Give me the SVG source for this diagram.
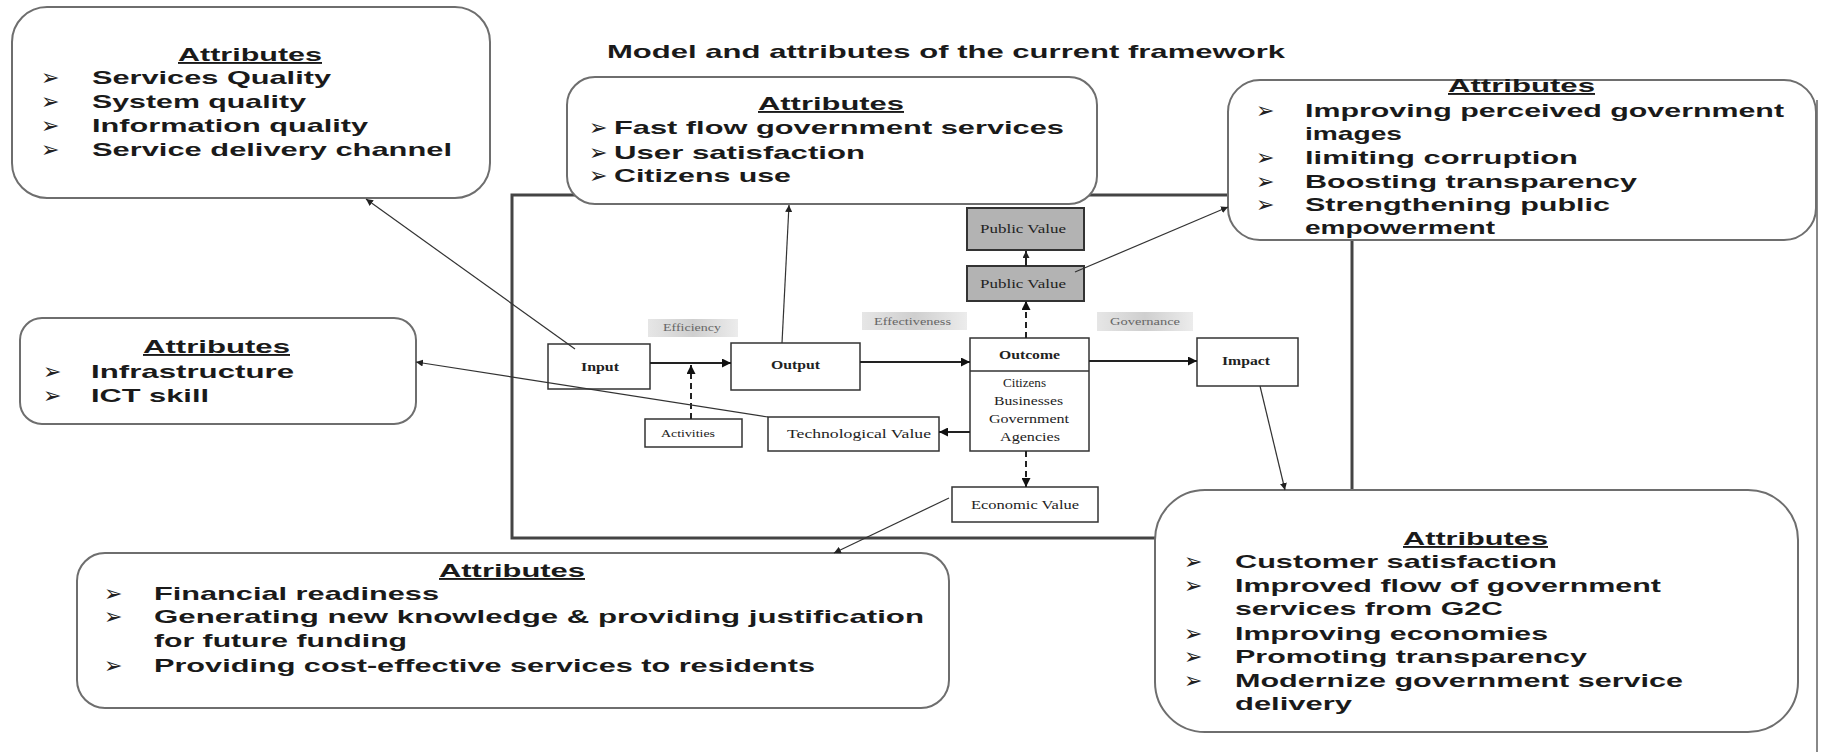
<svg xmlns="http://www.w3.org/2000/svg" width="1821" height="752" viewBox="0 0 1821 752">
<style>
.box{fill:#fff;stroke:#6e6e6e;stroke-width:2}
.h{font-family:"Liberation Sans",Arial,sans-serif;font-weight:bold;font-size:19px;fill:#1a1a1a;text-decoration:underline}
.t{font-family:"Liberation Sans",Arial,sans-serif;font-weight:bold;font-size:19px;fill:#1a1a1a}
.b{font-family:"DejaVu Sans",sans-serif;font-size:22px;fill:#222}
.n{fill:#fff;stroke:#333;stroke-width:1.5}
.pv{fill:#b3b3b3;stroke:#333;stroke-width:2}
.s{font-family:"Liberation Serif","Times New Roman",serif;font-size:13px;fill:#222}
.sb{font-weight:bold}
.lab{font-family:"Liberation Serif","Times New Roman",serif;font-size:11px;fill:#666}
.c{stroke:#222;stroke-width:2;fill:none}
.thin{stroke:#333;stroke-width:1.2;fill:none}
.dash{stroke-dasharray:6 4}
.frame{fill:none;stroke:#444;stroke-width:3}
</style>
<defs>
<marker id="ah" viewBox="0 0 10 10" refX="10" refY="5" markerWidth="9" markerHeight="9" markerUnits="userSpaceOnUse" orient="auto">
<path d="M0,0 L10,5 L0,10 z" fill="#111"/>
</marker>
<marker id="ahs" viewBox="0 0 10 10" refX="10" refY="5" markerWidth="7" markerHeight="7" markerUnits="userSpaceOnUse" orient="auto">
<path d="M0,0 L10,5 L0,10 z" fill="#222"/>
</marker>
<linearGradient id="lg" x1="0" y1="0" x2="1" y2="0">
<stop offset="0" stop-color="#e6e6e6"/>
<stop offset="0.5" stop-color="#cfcfcf"/>
<stop offset="1" stop-color="#ececec"/>
</linearGradient>
</defs>
<rect width="1821" height="752" fill="#fff"/>
<line x1="1817" y1="100" x2="1817" y2="752" stroke="#888" stroke-width="2"/>

<text id="title" class="t" x="607" y="58" textLength="678" lengthAdjust="spacingAndGlyphs">Model and attributes of the current framework</text>

<g id="frame"><rect class="frame" x="512" y="195" width="840" height="343"/></g>

<g id="attr-top-left">
<rect class="box" x="12" y="7" width="478" height="191" rx="35"/>
<text class="h" x="178" y="61" textLength="144" lengthAdjust="spacingAndGlyphs">Attributes</text>
<text class="b" x="41" y="85">➢</text><text class="t" x="92" y="84" textLength="239" lengthAdjust="spacingAndGlyphs">Services Quality</text>
<text class="b" x="41" y="109">➢</text><text class="t" x="92" y="108" textLength="214" lengthAdjust="spacingAndGlyphs">System quality</text>
<text class="b" x="41" y="133">➢</text><text class="t" x="92" y="132" textLength="276" lengthAdjust="spacingAndGlyphs">Information quality</text>
<text class="b" x="41" y="157">➢</text><text class="t" x="92" y="156" textLength="360" lengthAdjust="spacingAndGlyphs">Service delivery channel</text>
</g>

<g id="attr-output">
<rect class="box" x="567" y="77" width="530" height="127" rx="28"/>
<text class="h" x="758" y="110" textLength="146" lengthAdjust="spacingAndGlyphs">Attributes</text>
<text class="b" x="589" y="135">➢</text><text class="t" x="614" y="134" textLength="450" lengthAdjust="spacingAndGlyphs">Fast flow  government services</text>
<text class="b" x="589" y="160">➢</text><text class="t" x="614" y="159" textLength="251" lengthAdjust="spacingAndGlyphs">User satisfaction</text>
<text class="b" x="589" y="183">➢</text><text class="t" x="614" y="182" textLength="177" lengthAdjust="spacingAndGlyphs">Citizens use</text>
</g>

<g id="attr-public-value">
<rect class="box" x="1228" y="80" width="588" height="160" rx="32"/>
<text class="h" x="1448" y="92" textLength="147" lengthAdjust="spacingAndGlyphs">Attributes</text>
<text class="b" x="1256" y="118">➢</text><text class="t" x="1305" y="117" textLength="479" lengthAdjust="spacingAndGlyphs">Improving perceived government</text>
<text class="t" x="1305" y="140" textLength="97" lengthAdjust="spacingAndGlyphs">images</text>
<text class="b" x="1256" y="165">➢</text><text class="t" x="1305" y="164" textLength="273" lengthAdjust="spacingAndGlyphs">limiting corruption</text>
<text class="b" x="1256" y="189">➢</text><text class="t" x="1305" y="188" textLength="332" lengthAdjust="spacingAndGlyphs">Boosting transparency</text>
<text class="b" x="1256" y="212">➢</text><text class="t" x="1305" y="211" textLength="305" lengthAdjust="spacingAndGlyphs">Strengthening public</text>
<text class="t" x="1305" y="234" textLength="190" lengthAdjust="spacingAndGlyphs">empowerment</text>
</g>

<g id="attr-technological">
<rect class="box" x="20" y="318" width="396" height="106" rx="22"/>
<text class="h" x="143" y="353" textLength="147" lengthAdjust="spacingAndGlyphs">Attributes</text>
<text class="b" x="43" y="379">➢</text><text class="t" x="91" y="378" textLength="203" lengthAdjust="spacingAndGlyphs">Infrastructure</text>
<text class="b" x="43" y="403">➢</text><text class="t" x="91" y="402" textLength="118" lengthAdjust="spacingAndGlyphs">ICT skill</text>
</g>

<g id="attr-economic">
<rect class="box" x="77" y="553" width="872" height="155" rx="28"/>
<text class="h" x="439" y="577" textLength="146" lengthAdjust="spacingAndGlyphs">Attributes</text>
<text class="b" x="104" y="601">➢</text><text class="t" x="154" y="600" textLength="285" lengthAdjust="spacingAndGlyphs">Financial readiness</text>
<text class="b" x="104" y="624">➢</text><text class="t" x="154" y="623" textLength="770" lengthAdjust="spacingAndGlyphs">Generating  new  knowledge  &amp;  providing  justification</text>
<text class="t" x="154" y="647" textLength="253" lengthAdjust="spacingAndGlyphs">for future funding</text>
<text class="b" x="104" y="673">➢</text><text class="t" x="154" y="672" textLength="661" lengthAdjust="spacingAndGlyphs">Providing cost-effective services to residents</text>
</g>

<g id="attr-impact">
<rect class="box" x="1155" y="490" width="643" height="242" rx="50"/>
<text class="h" x="1403" y="545" textLength="145" lengthAdjust="spacingAndGlyphs">Attributes</text>
<text class="b" x="1184" y="569">➢</text><text class="t" x="1235" y="568" textLength="322" lengthAdjust="spacingAndGlyphs">Customer satisfaction</text>
<text class="b" x="1184" y="593">➢</text><text class="t" x="1235" y="592" textLength="426" lengthAdjust="spacingAndGlyphs">Improved flow of  government</text>
<text class="t" x="1235" y="615" textLength="268" lengthAdjust="spacingAndGlyphs">services from G2C</text>
<text class="b" x="1184" y="641">➢</text><text class="t" x="1235" y="640" textLength="313" lengthAdjust="spacingAndGlyphs">Improving economies</text>
<text class="b" x="1184" y="664">➢</text><text class="t" x="1235" y="663" textLength="352" lengthAdjust="spacingAndGlyphs">Promoting transparency</text>
<text class="b" x="1184" y="688">➢</text><text class="t" x="1235" y="687" textLength="448" lengthAdjust="spacingAndGlyphs">Modernize government service</text>
<text class="t" x="1235" y="710" textLength="117" lengthAdjust="spacingAndGlyphs">delivery</text>
</g>

<g id="label-efficiency"><rect x="648" y="319" width="90" height="18" fill="url(#lg)"/><text class="lab" x="663" y="331" textLength="58" lengthAdjust="spacingAndGlyphs">Efficiency</text></g>
<g id="label-effectiveness"><rect x="862" y="312" width="105" height="18" fill="url(#lg)"/><text class="lab" x="874" y="325" textLength="77" lengthAdjust="spacingAndGlyphs">Effectiveness</text></g>
<g id="label-governance"><rect x="1097" y="312" width="96" height="19" fill="url(#lg)"/><text class="lab" x="1110" y="325" textLength="70" lengthAdjust="spacingAndGlyphs">Governance</text></g>

<g id="node-public-value-1"><rect class="pv" x="967" y="208" width="117" height="42"/><text class="s" x="980" y="233" textLength="86" lengthAdjust="spacingAndGlyphs">Public Value</text></g>
<g id="node-public-value-2"><rect class="pv" x="967" y="266" width="117" height="35"/><text class="s" x="980" y="288" textLength="86" lengthAdjust="spacingAndGlyphs">Public Value</text></g>
<g id="node-input"><rect class="n" x="548" y="344" width="102" height="45"/><text class="s sb" x="581" y="371" textLength="38" lengthAdjust="spacingAndGlyphs">Input</text></g>
<g id="node-output"><rect class="n" x="731" y="343" width="129" height="47"/><text class="s sb" x="771" y="369" textLength="49" lengthAdjust="spacingAndGlyphs">Output</text></g>
<g id="node-outcome"><rect class="n" x="970" y="338" width="119" height="113"/><line x1="970" y1="371" x2="1089" y2="371" stroke="#333" stroke-width="1.5"/>
<text class="s sb" x="999" y="359" textLength="61" lengthAdjust="spacingAndGlyphs">Outcome</text>
<text class="s" x="1003" y="387" textLength="43" lengthAdjust="spacingAndGlyphs">Citizens</text>
<text class="s" x="994" y="405" textLength="69" lengthAdjust="spacingAndGlyphs">Businesses</text>
<text class="s" x="989" y="423" textLength="80" lengthAdjust="spacingAndGlyphs">Government</text>
<text class="s" x="1000" y="441" textLength="60" lengthAdjust="spacingAndGlyphs">Agencies</text></g>
<g id="node-impact"><rect class="n" x="1197" y="338" width="101" height="48"/><text class="s sb" x="1222" y="365" textLength="48" lengthAdjust="spacingAndGlyphs">Impact</text></g>
<g id="node-activities"><rect class="n" x="645" y="419" width="97" height="28"/><text class="s" x="661" y="437" textLength="54" lengthAdjust="spacingAndGlyphs" style="font-size:11px">Activities</text></g>
<g id="node-technological-value"><rect class="n" x="768" y="417" width="171" height="34"/><text class="s" x="787" y="438" textLength="144" lengthAdjust="spacingAndGlyphs">Technological Value</text></g>
<g id="node-economic-value"><rect class="n" x="952" y="487" width="146" height="35"/><text class="s" x="971" y="509" textLength="108" lengthAdjust="spacingAndGlyphs">Economic Value</text></g>

<g id="connectors">
<line class="c" x1="650" y1="363" x2="731" y2="363" marker-end="url(#ah)"/>
<line class="c" x1="860" y1="362" x2="970" y2="362" marker-end="url(#ah)"/>
<line class="c" x1="1089" y1="361" x2="1197" y2="361" marker-end="url(#ah)"/>
<line class="c dash" x1="691" y1="419" x2="691" y2="365" marker-end="url(#ah)"/>
<line class="c dash" x1="1026" y1="338" x2="1026" y2="301" marker-end="url(#ah)"/>
<line class="c" x1="1026" y1="266" x2="1026" y2="251" marker-end="url(#ahs)"/>
<line class="c" x1="970" y1="432" x2="939" y2="432" marker-end="url(#ah)"/>
<line class="c dash" x1="1026" y1="451" x2="1026" y2="487" marker-end="url(#ah)"/>
<line class="thin" x1="575" y1="349" x2="366" y2="199" marker-end="url(#ahs)"/>
<line class="thin" x1="782" y1="343" x2="789" y2="205" marker-end="url(#ahs)"/>
<line class="thin" x1="1075" y1="272" x2="1228" y2="207" marker-end="url(#ahs)"/>
<line class="thin" x1="768" y1="417" x2="416" y2="362" marker-end="url(#ahs)"/>
<line class="thin" x1="1260" y1="386" x2="1285" y2="490" marker-end="url(#ahs)"/>
<line class="thin" x1="949" y1="498" x2="834" y2="553" marker-end="url(#ahs)"/>
</g>
</svg>
